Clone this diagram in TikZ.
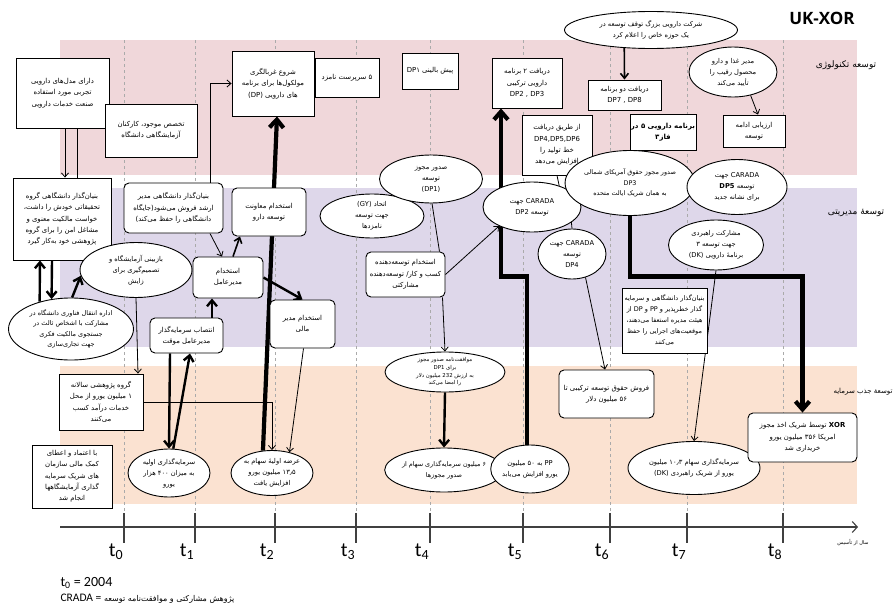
\documentclass[tikz,border=0pt]{standalone}
\usepackage{fontspec}
\usepackage{tikz}
\usetikzlibrary{shapes.geometric, arrows.meta, positioning, calc}
\setmainfont{Carlito}
\newfontfamily\fafont[Script=Arabic]{DejaVu Sans}
\newfontfamily\headfont{Open Sans}
\TeXXeTstate=1
\definecolor{tech-pink}{RGB}{240,215,218}
\definecolor{mgmt-lilac}{RGB}{222,215,234}
\definecolor{cap-peach}{RGB}{251,226,209}
\definecolor{grid-gray}{RGB}{170,170,170}
\newcommand{\rline}[1]{\beginR #1\endR}%  \rline{one persian line}
\newcommand{\lrun}[1]{\beginL #1\endL}%  \lrun{latin run inside it}
\pgfdeclarelayer{bands}
\pgfdeclarelayer{links}
\pgfsetlayers{bands,links,main}

\begin{document}
\begin{tikzpicture}[x=1pt, y=-1pt,
    box/.style={draw, fill=white, line width=0.9pt, align=center, inner sep=1pt,
                font=\fafont\fontsize{6.9}{11.3}\selectfont},
    rbox/.style={box, rounded corners=5pt},
    oval/.style={box, ellipse, inner sep=0pt, font=\fafont\fontsize{6.7}{11}\selectfont},
    link/.style={line width=0.8pt, -{Straight Barb[length=4pt, width=7pt]}},
    plainlink/.style={line width=0.8pt},
    midlink/.style={line width=1.6pt, -{Straight Barb[length=5pt, width=8pt]}},
    heavylink/.style={line width=2.4pt, -{Straight Barb[length=6pt, width=10pt]}},
    fatlink/.style={line width=4.2pt, -{Straight Barb[length=8pt, width=14pt]}},
    bandlabel/.style={font=\fafont\fontsize{9}{11}\selectfont},
    tlabel/.style={font=\fontsize{20}{22}\selectfont}]
  \useasboundingbox (0,0) rectangle (895,613);

  % ── bands and time grid ──
  \begin{pgfonlayer}{bands}
    \fill[white] (0,0) rectangle (895,613);
    \fill[tech-pink] (60,40) rectangle (857,175);
    \fill[mgmt-lilac] (60,188) rectangle (857,347);
    \fill[cap-peach] (60,366) rectangle (857,504);
    \foreach \tx in {124,195,275,356,430,523,610,687,783}
      \draw[grid-gray, line width=0.6pt, dash pattern=on 3pt off 3pt] (\tx,40) -- (\tx,513);
  \end{pgfonlayer}

  \node[font=\headfont\bfseries\fontsize{17}{19}\selectfont] (title) at (822,18) {UK-XOR};
  \node[bandlabel] (techlbl) at (846,65) {\rline{توسعه تکنولوژی}};
  \node[bandlabel] (mgmtlbl) at (856,213) {\rline{توسعهٔ مدیریتی}};
  \node[bandlabel, font=\fafont\fontsize{7}{9}\selectfont] (caplbl) at (863,392)
        {\rline{توسعهٔ جذب سرمایه}};

  % ── technology row ──
  \node[box, minimum width=93pt, minimum height=70pt] (models) at (62.5,93)
        {\rline{دارای مدل‌های دارویی}\\\rline{تجربی مورد استفاده}\\\rline{صنعت خدمات دارویی}};
  \node[box, minimum width=92pt, minimum height=53pt] (expertise) at (151,130.5)
        {\rline{تخصص موجود، کارکنان}\\\rline{آزمایشگاهی دانشگاه}};
  \node[box, minimum width=64pt, minimum height=39pt] (leads) at (347,77.5)
        {\rline{۵ سرپرست نامزد}};
  \node[box, minimum width=82pt, minimum height=65pt] (screening) at (273,83.5)
        {\rline{شروع غربالگری}\\\rline{مولکول‌ها برای برنامه}\\\rline{های دارویی \lrun{(DP)}}};
  \node[box, minimum width=56pt, minimum height=36pt] (preclin) at (430,71)
        {\rline{پیش بالینی \lrun{DP۱}}};
  \node[box, minimum width=70pt, minimum height=50pt] (getdp23) at (527,83)
        {\rline{دریافت ۲ برنامه}\\\rline{دارویی ترکیبی}\\DP2 , DP3};
  \node[box, minimum width=70pt, minimum height=60pt] (pipeline) at (557,145)
        {\rline{از طریق دریافت}\\DP4,DP5,DP6\\\rline{خط تولید را}\\\rline{افزایش می‌دهد}};
  \node[oval, minimum width=173pt, minimum height=37pt] (bigpharma) at (651,30)
        {\rline{شرکت دارویی بزرگ توقف توسعه در}\\\rline{یک حوزه خاص را اعلام کرد}};
  \node[box, minimum width=73pt, minimum height=30pt] (getdp78) at (624.5,95)
        {\rline{دریافت دو برنامه}\\DP7 , DP8};
  \node[box, minimum width=64pt, minimum height=36pt,
        font=\fafont\bfseries\fontsize{7}{11}\selectfont] (phase3) at (663,132)
        {\rline{برنامه دارویی ۵ در}\\\rline{فاز۳}};
  \node[oval, minimum width=88pt, minimum height=50pt] (fda) at (733,72)
        {\rline{مدیر غذا و دارو}\\\rline{محصول رقیب را}\\\rline{تأیید می‌کند}};
  \node[box, minimum width=62pt, minimum height=32pt] (assess) at (754,131)
        {\rline{ارزیابی ادامه}\\\rline{توسعه}};

  % ── management row ──
  \node[box, minimum width=98pt, minimum height=82pt] (founder) at (62,219)
        {\rline{بنیان‌گذار دانشگاهی گروه}\\\rline{تحقیقاتی خودش را داشت،}\\
         \rline{خواست مالکیت معنوی و}\\\rline{مشاغل امن را برای گروه}\\
         \rline{پژوهشی خود به‌کار گیرد}};
  \node[rbox, minimum width=99pt, minimum height=50pt] (salesdir) at (173.5,208)
        {\rline{بنیان‌گذار دانشگاهی مدیر}\\\rline{ارشد فروش می‌شود(جایگاه}\\
         \rline{دانشگاهی را حفظ می‌کند)}};
  \node[rbox, minimum width=74pt, minimum height=48pt] (vpdev) at (269,212)
        {\rline{استخدام معاونت}\\\rline{توسعه دارو}};
  \node[oval, minimum width=112pt, minimum height=55pt] (review) at (136,270)
        {\rline{بازبینی آزمایشگاه و}\\\rline{تصمیم‌گیری برای}\\\rline{زایش}};
  \node[rbox, minimum width=70pt, minimum height=41pt] (hireceo) at (228,277.5)
        {\rline{استخدام}\\\rline{مدیرعامل}};
  \node[oval, minimum width=125pt, minimum height=62pt,
        font=\fafont\fontsize{6.5}{10.5}\selectfont] (tto) at (71,329)
        {\rline{اداره انتقال فناوری دانشگاه در}\\\rline{مشارکت با اشخاص ثالث در}\\
         \rline{جستجوی مالکیت فکری}\\\rline{جهت تجاری‌سازی}};
  \node[rbox, minimum width=73pt, minimum height=35pt] (interim) at (186.5,335.5)
        {\rline{انتصاب سرمایه‌گذار}\\\rline{مدیرعامل موقت}};
  \node[rbox, minimum width=65pt, minimum height=48pt] (cfo) at (302.5,324)
        {\rline{استخدام مدیر}\\\rline{مالی}};
  \node[oval, minimum width=104pt, minimum height=44pt] (alliance) at (372,216)
        {\rline{اتحاد \lrun{(GY)}}\\\rline{جهت توسعه}\\\rline{نامزدها}};
  \node[oval, minimum width=103pt, minimum height=48pt] (license) at (431,179)
        {\rline{صدور مجوز}\\\rline{توسعه}\\(DP1)};
  \node[rbox, minimum width=79pt, minimum height=45pt] (bizdev) at (405.5,274.5)
        {\rline{استخدام توسعه‌دهنده}\\\rline{کسب و کار/ توسعه‌دهنده}\\\rline{مشارکتی}};
  \node[oval, minimum width=98pt, minimum height=50pt] (crada2) at (532,207)
        {\rline{\lrun{CARADA} جهت}\\\rline{توسعه \lrun{DP2}}};
  \node[oval, minimum width=68pt, minimum height=50pt] (crada4) at (572,254)
        {\rline{\lrun{CARADA} جهت}\\\rline{توسعه}\\DP4};
  \node[oval, minimum width=125pt, minimum height=65pt,
        font=\fafont\fontsize{6.4}{10.5}\selectfont] (naright) at (630,183)
        {\rline{صدور مجوز حقوق آمریکای شمالی}\\DP3\\\rline{به همان شریک ایالت متحده}};
  \node[oval, minimum width=100pt, minimum height=55pt] (crada5) at (737,187)
        {\rline{\lrun{CARADA} جهت}\\\rline{توسعه \lrun{\textbf{DP5}}}\\\rline{برای نشانه جدید}};
  \node[oval, minimum width=95pt, minimum height=50pt] (dkpart) at (716,245)
        {\rline{مشارکت راهبردی}\\\rline{جهت توسعه ۳}\\\rline{برنامهٔ دارویی \lrun{(DK)}}};
  \node[box, minimum width=85pt, minimum height=65pt,
        font=\fafont\fontsize{6.5}{11}\selectfont] (resign) at (664.5,320.5)
        {\rline{بنیان‌گذار دانشگاهی و سرمایه}\\\rline{گذار خطرپذیر و \lrun{PP} و \lrun{DP} از}\\
         \rline{هیئت مدیره استعفا می‌دهند،}\\\rline{موقعیت‌های اجرایی را حفظ}\\
         \rline{می‌کنند}};

  % ── capital row ──
  \node[box, minimum width=84pt, minimum height=56pt] (revenue) at (101,402)
        {\rline{گروه پژوهشی سالانه}\\\rline{۱ میلیون یورو از محل}\\
         \rline{خدمات درآمد کسب}\\\rline{می‌کنند}};
  \node[box, minimum width=80pt, minimum height=63pt] (grants) at (72,476.5)
        {\rline{با اعتماد و اعطای}\\\rline{کمک مالی سازمان}\\\rline{های شریک سرمایه}\\
         \rline{گذاری آزمایشگاهها}\\\rline{انجام شد}};
  \node[oval, minimum width=82pt, minimum height=48pt] (seed) at (169,473)
        {\rline{سرمایه‌گذاری اولیه}\\\rline{به میزان ۴۰۰ هزار}\\\rline{یورو}};
  \node[oval, minimum width=82pt, minimum height=45pt] (ipo) at (272,473)
        {\rline{عرضه اولیهٔ سهام به}\\\rline{۱۳٫۵ میلیون یورو}\\\rline{افزایش یافت}};
  \node[oval, minimum width=120pt, minimum height=40pt,
        font=\fafont\fontsize{5.4}{7.6}\selectfont] (dealdp1) at (445,372)
        {\rline{موافقت‌نامه صدور مجوز}\\\rline{برای \lrun{DP1}}\\
         \rline{به ارزش \lrun{232} میلیون دلار}\\\rline{را امضا می‌کند}};
  \node[oval, minimum width=118pt, minimum height=44pt,
        font=\fafont\fontsize{6.4}{10.5}\selectfont] (equity6) at (444,470)
        {\rline{۶ میلیون سرمایه‌گذاری سهام از}\\\rline{صدور مجوزها}};
  \node[oval, minimum width=70pt, minimum height=48pt] (pp50) at (530,469)
        {\rline{\lrun{PP} به ۵۰ میلیون}\\\rline{یورو افزایش می‌یابد}};
  \node[rbox, minimum width=95pt, minimum height=48pt] (sellrights) at (606.5,394)
        {\rline{فروش حقوق توسعه ترکیبی تا}\\\rline{۵۶ میلیون دلار}};
  \node[oval, minimum width=132pt, minimum height=53pt] (dkequity) at (694,468)
        {\rline{سرمایه‌گذاری سهام ۱۰٫۳ میلیون}\\\rline{یورو از شریک راهبردی \lrun{(DK)}}};
  \node[rbox, minimum width=109pt, minimum height=49pt] (acquire) at (802.5,437.5)
        {\rline{\lrun{\textbf{XOR}} توسط شریک اخذ مجوز}\\\rline{امریکا ۳۵۶ میلیون یورو}\\
         \rline{خریداری شد}};

  % ── connectors (under the nodes) ──
  \begin{pgfonlayer}{links}
    \draw[link] ([xshift=2.5pt]models.south) -- ([xshift=3pt]founder.north);
    \draw[plainlink] ([xshift=14.5pt]models.south) |- ([yshift=-7pt]founder.north east);
    \draw[heavylink] (tto.139) -- ([xshift=-22pt]founder.south);
    \draw[heavylink] ([xshift=-10pt]founder.south) -- (tto.123);
    \draw[heavylink] (tto.88) -- (review.186);
    \draw[link] (review.south) -- ([xshift=37pt]revenue.north);
    \draw[link] ([xshift=36.5pt]salesdir.north) |- (screening.west);
    \draw[link] ([xshift=36.5pt]salesdir.south) -- ([xshift=-6pt]hireceo.north);
    \draw[midlink] ([xshift=5pt]hireceo.north) -- ([xshift=-29pt]vpdev.south);
    \draw[heavylink] ([xshift=25.5pt]interim.north) -- ([xshift=-16pt]hireceo.south);
    \draw[heavylink] (hireceo.east) -- (cfo.north);
    \draw[heavylink] ([xshift=-16.5pt]interim.south) -- (seed.north);
    \draw[heavylink] (seed.80) -- ([xshift=3.5pt]interim.south);
    \draw[fatlink] (ipo.112) -- ([xshift=4pt]screening.south);
    \draw[link] (revenue.east) -| (ipo.north);
    \draw[link] ([xshift=1pt]cfo.south) -- (ipo.50);
    % DP1 deal
    \draw[plainlink] ([xshift=1pt]license.south) -- ([xshift=34pt]bizdev.north);
    \draw[link] ([xshift=37pt]bizdev.south) -- (dealdp1.north);
    \draw[link] (bizdev.east) -- (crada2.210);
    \draw[heavylink] (dealdp1.south) -- (equity6.north);
    \draw[fatlink] ([xshift=-3pt]pp50.north) -- ++(0,-168) -| ([xshift=-26pt]getdp23.south);
    % later programmes
    \draw[fatlink] (naright.south) -- ++(0,60.5) -| (acquire.north);
    \draw[midlink] (bigpharma.214) -- (getdp78.north);
    \draw[link] (fda.-53) -- ([xshift=4pt]assess.north);
    \draw[plainlink] (pipeline.south) -- (crada2.38);
    \draw[plainlink] ([xshift=10pt]pipeline.south) -- (crada4.north);
    \draw[link] (crada4.-60) -- ([xshift=-1.5pt]sellrights.north);
    \draw[link] (dkpart.south) -- (dkequity.north);
  \end{pgfonlayer}

  % ── time axis ──
  \draw[line width=1.1pt, black!75, -{Straight Barb[length=5pt, width=11pt]}] (60,527) -- (858,527);
  \foreach \tx/\i in {124/0,195/1,275/2,356/3,430/4,523/5,610/6,687/7,783/8} {
    \draw[line width=1.1pt, black!75] (\tx,513) -- (\tx,543);
    \node[tlabel] (t\i) at (\tx-8,552) {t\textsubscript{\i}};
  }
  \node[font=\fafont\fontsize{5}{6}\selectfont] (axislbl) at (853,543) {\rline{سال از تأسیس}};

  % ── key ──
  \node[anchor=west, font=\fontsize{14}{16}\selectfont] (t0def) at (57,583)
        {t\textsubscript{0} = 2004};
  \node[anchor=west, font=\fontsize{11.5}{13}\selectfont] (cradadef) at (57,599)
        {CRADA = {\fafont\fontsize{8}{9}\selectfont\rline{پژوهش مشارکتی و موافقت‌نامه توسعه}}};
\end{tikzpicture}
\end{document}
